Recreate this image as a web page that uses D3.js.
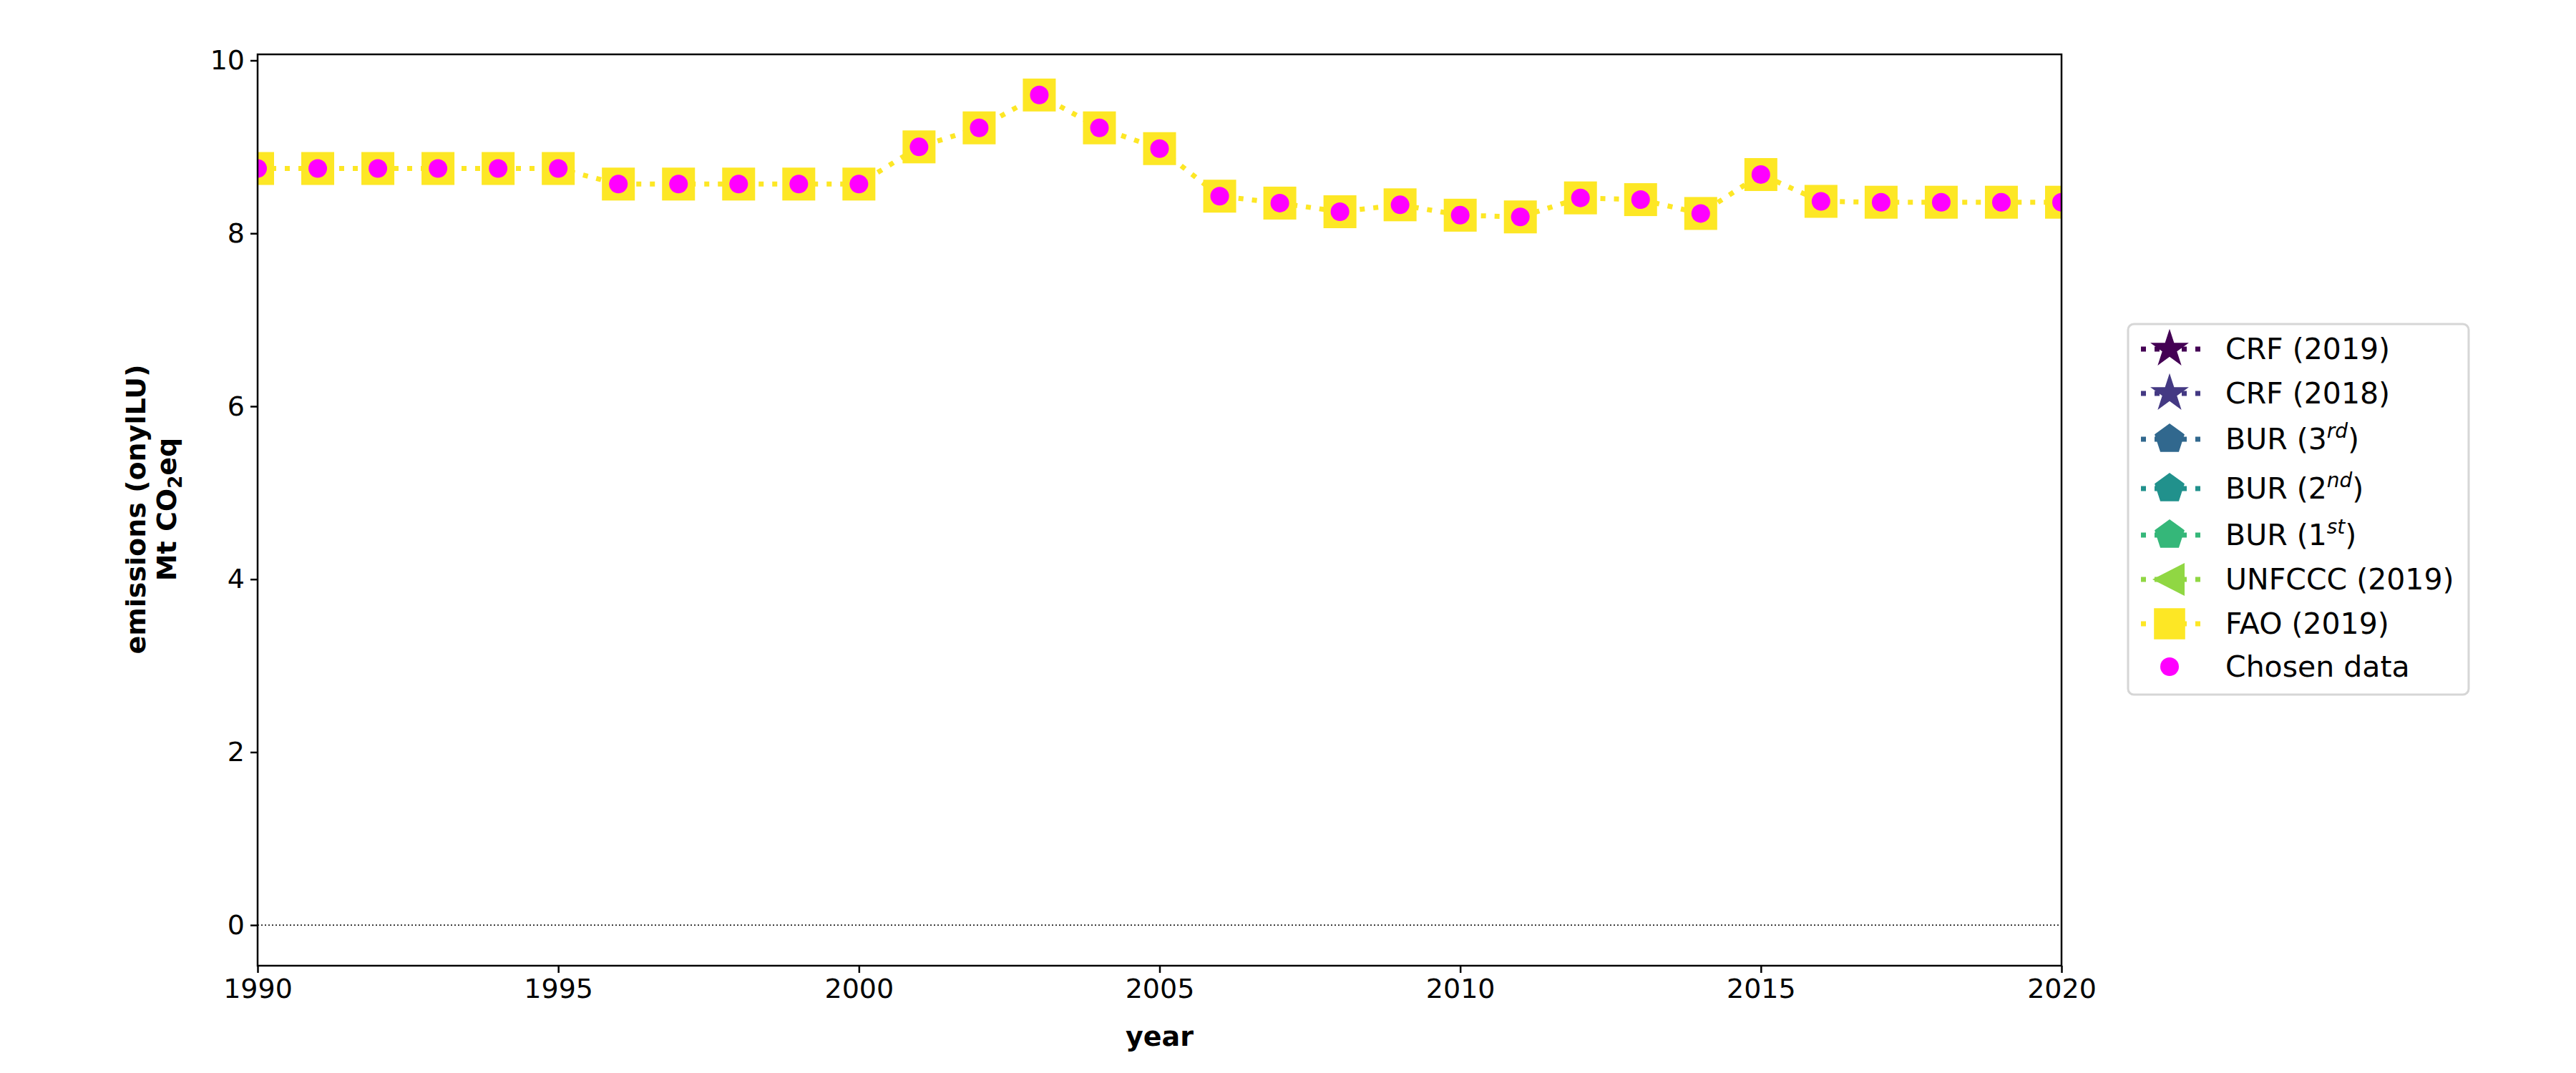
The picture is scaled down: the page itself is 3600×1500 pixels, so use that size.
<!DOCTYPE html>
<html>
<head>
<meta charset="utf-8">
<script src="https://cdn.jsdelivr.net/npm/d3@7"></script>
<style>
  body { margin: 0; background: #fff; }
  text { font-family: "DejaVu Sans", sans-serif; }
</style>
</head>
<body>
<svg id="chart" width="3600" height="1500"></svg>
<script>
// data
var years = d3.range(1990, 2021);
var faoValues = [8.75, 8.75, 8.75, 8.75, 8.75, 8.75, 8.57, 8.57, 8.57, 8.57, 8.57,
                 9.0, 9.22, 9.6, 9.22, 8.98, 8.43, 8.35, 8.25, 8.33, 8.21, 8.19,
                 8.41, 8.39, 8.23, 8.68, 8.37, 8.36, 8.36, 8.36, 8.36];
var chosenValues = faoValues.slice();
var xTicks = [1990, 1995, 2000, 2005, 2010, 2015, 2020];
var yTicks = [0, 2, 4, 6, 8, 10];
var legendLabels = [
  {name: "CRF (2019)", sup: null, color: "#440154", shape: "star"},
  {name: "CRF (2018)", sup: null, color: "#443983", shape: "star"},
  {name: "BUR (3", sup: "rd", color: "#31688e", shape: "pentagon"},
  {name: "BUR (2", sup: "nd", color: "#21918c", shape: "pentagon"},
  {name: "BUR (1", sup: "st", color: "#35b779", shape: "pentagon"},
  {name: "UNFCCC (2019)", sup: null, color: "#90d743", shape: "triangle"},
  {name: "FAO (2019)", sup: null, color: "#fde725", shape: "square"},
  {name: "Chosen data", sup: null, color: "#ff00ff", shape: "circle"}
];

var margin = {top: 76, left: 360, right: 3600 - 2881, bottom: 1500 - 1350};
var width = 3600 - margin.left - margin.right,
    height = 1500 - margin.top - margin.bottom;

var svg = d3.select("#chart");
var g = svg.append("g").attr("transform", "translate(" + margin.left + "," + margin.top + ")");

var x = d3.scaleLinear().domain([1990, 2020]).range([0, width]);
var y = d3.scaleLinear().domain([-0.47, 10.07]).range([height, 0]);

g.append("clipPath").attr("id", "plotClip")
  .append("rect").attr("width", width).attr("height", height);

//zero line
g.append("line")
  .attr("x1", 0).attr("x2", width)
  .attr("y1", y(0)).attr("y2", y(0))
  .attr("stroke", "#000").attr("stroke-width", 1.5).attr("stroke-dasharray", "2,3");

var plot = g.append("g").attr("clip-path", "url(#plotClip)");

//FAO line
var line = d3.line().x(function (d, i) { return x(years[i]); }).y(function (d) { return y(d); });
plot.append("path")
  .datum(faoValues)
  .attr("d", line)
  .attr("fill", "none")
  .attr("stroke", "#fde725")
  .attr("stroke-width", 7)
  .attr("stroke-dasharray", "7,12");

var sq = 46;
plot.selectAll(".fao")
  .data(faoValues).enter()
  .append("rect")
  .attr("x", function (d, i) { return x(years[i]) - sq / 2; })
  .attr("y", function (d) { return y(d) - sq / 2; })
  .attr("width", sq).attr("height", sq)
  .attr("fill", "#fde725");

plot.selectAll(".chosen")
  .data(chosenValues).enter()
  .append("circle")
  .attr("cx", function (d, i) { return x(years[i]); })
  .attr("cy", function (d) { return y(d); })
  .attr("r", 13)
  .attr("fill", "#ff00ff");

//Axes
var xAxis = g.append("g").attr("transform", "translate(0," + height + ")")
  .call(d3.axisBottom(x).tickValues(xTicks).tickFormat(d3.format("d")).tickSize(10).tickPadding(8));
var yAxis = g.append("g")
  .call(d3.axisLeft(y).tickValues(yTicks).tickSize(10).tickPadding(8));
[xAxis, yAxis].forEach(function (a) {
  a.select(".domain").remove();
  a.selectAll("line").attr("stroke-width", 2.5);
  a.selectAll("text").attr("font-size", 38).attr("font-family", "DejaVu Sans").attr("fill", "#000");
});

g.append("rect").attr("width", width).attr("height", height)
  .attr("fill", "none").attr("stroke", "#000").attr("stroke-width", 2.5);

//Labels
svg.append("text")
  .attr("x", margin.left + width / 2).attr("y", 1462)
  .attr("text-anchor", "middle").attr("font-size", 38).attr("font-weight", "bold")
  .text("year");

var yl = svg.append("text")
  .attr("transform", "translate(0,712) rotate(-90)")
  .attr("text-anchor", "middle").attr("font-size", 38).attr("font-weight", "bold");
yl.append("tspan").attr("x", 0).attr("y", 203).text("emissions (onylLU)");
var l2 = yl.append("tspan").attr("x", 0).attr("y", 246);
l2.append("tspan").text("Mt CO");
l2.append("tspan").attr("font-size", 26).attr("dy", 8).text("2");
l2.append("tspan").attr("dy", -8).text("eq");

//Legend
var lg = svg.append("g").attr("transform", "translate(2974,453)");
lg.append("rect").attr("width", 476).attr("height", 518).attr("rx", 8)
  .attr("fill", "#fff").attr("stroke", "#d6d6d6").attr("stroke-width", 3);

function pentagon(r) {
  var pts = d3.range(5).map(function (k) {
    var a = -Math.PI / 2 + k * 2 * Math.PI / 5;
    return [r * Math.cos(a), r * Math.sin(a)];
  });
  return "M" + pts.join("L") + "Z";
}
var rowY = [35, 97, 161, 230, 295, 357, 419, 479];
var rows = lg.selectAll(".row").data(legendLabels).enter()
  .append("g").attr("transform", function (d, i) { return "translate(0," + rowY[i] + ")"; });
rows.filter(function (d) { return d.shape !== "circle"; })
  .append("line").attr("x1", 18).attr("x2", 106)
  .attr("stroke", function (d) { return d.color; })
  .attr("stroke-width", 7).attr("stroke-dasharray", "7,12");
rows.append("path")
  .attr("transform", "translate(58,0)")
  .attr("d", function (d) {
    if (d.shape === "pentagon") return pentagon(22);
    if (d.shape === "triangle") return "M-24,0L21,-23L21,23Z";
    if (d.shape === "star") return d3.symbol(d3.symbolStar, 900)();
    if (d.shape === "square") return d3.symbol(d3.symbolSquare, 1900)();
    return d3.symbol(d3.symbolCircle, 530)();
  })
  .attr("fill", function (d) { return d.color; });
var lt = rows.append("text").attr("x", 136).attr("y", 14).attr("font-size", 41);
lt.append("tspan").text(function (d) { return d.name; });
lt.filter(function (d) { return d.sup; }).each(function (d) {
  var t = d3.select(this);
  t.append("tspan").attr("dy", -16).attr("font-size", 28).attr("font-style", "italic").text(d.sup);
  t.append("tspan").attr("dy", 16).text(")");
});
</script>
</body>
</html>
